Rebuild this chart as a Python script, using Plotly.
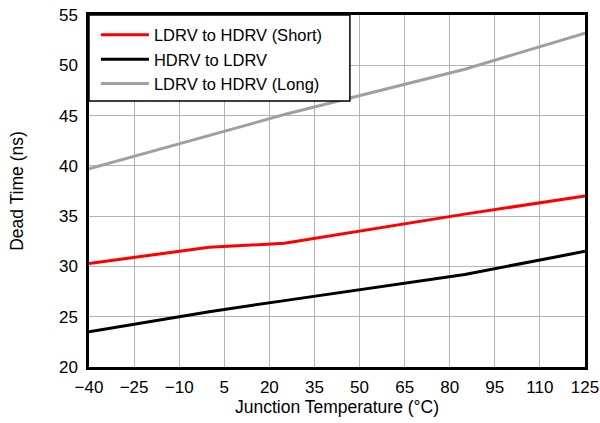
import plotly.graph_objects as go

temps_short = [-40, 0, 25, 85, 125]
ldrv_hdrv_short = [30.3, 31.9, 32.3, 35.2, 37.0]

temps_hl = [-40, 0, 25, 85, 125]
hdrv_ldrv = [23.5, 25.5, 26.6, 29.2, 31.5]

temps_long = [-40, 25, 85, 125]
ldrv_hdrv_long = [39.7, 45.1, 49.6, 53.2]

x_ticks = [-40, -25, -10, 5, 20, 35, 50, 65, 80, 95, 110, 125]
y_ticks = [20, 25, 30, 35, 40, 45, 50, 55]

fig = go.Figure()
fig.add_trace(go.Scatter(x=temps_short, y=ldrv_hdrv_short, mode="lines",
                         name="LDRV to HDRV (Short)", line=dict(color="#ff0000", width=3)))
fig.add_trace(go.Scatter(x=temps_hl, y=hdrv_ldrv, mode="lines",
                         name="HDRV to LDRV", line=dict(color="#000000", width=3)))
fig.add_trace(go.Scatter(x=temps_long, y=ldrv_hdrv_long, mode="lines",
                         name="LDRV to HDRV (Long)", line=dict(color="#a0a0a0", width=3)))

# legend frame drawn as a shape (paper coords) so the entries can sit inset
fig.add_shape(type="rect", xref="paper", yref="paper", x0=0, x1=0.526, y0=0.756, y1=1,
              fillcolor="white", line=dict(color="black", width=1.5), layer="above")

font = "Liberation Sans, Arial, sans-serif"
fig.update_layout(
    width=600, height=423,
    margin=dict(l=89, r=15, t=15, b=56),
    paper_bgcolor="white", plot_bgcolor="white",
    font=dict(family=font, size=16, color="black"),
    showlegend=True,
    legend=dict(x=0.014, y=0.993, xanchor="left", yanchor="top",
                bgcolor="rgba(0,0,0,0)", borderwidth=0,
                font=dict(size=16.5), tracegroupgap=0, itemwidth=48),
    xaxis=dict(range=[-40, 125], tickvals=x_ticks,
               ticktext=[str(v).replace("-", "\u2212") for v in x_ticks],
               showgrid=True, gridcolor="#b4b4b4", gridwidth=1,
               showline=True, linecolor="black", linewidth=2.5, mirror=True,
               ticks="", zeroline=False, automargin=False, ticklabelstandoff=3,
               ticklabeloverflow="allow",
               title=dict(text="Junction Temperature (°C)", font=dict(size=17.5), standoff=3),
               tickfont=dict(size=17)),
    yaxis=dict(range=[20, 55], tickvals=y_ticks,
               showgrid=True, gridcolor="#b4b4b4", gridwidth=1,
               showline=True, linecolor="black", linewidth=2.5, mirror=True,
               ticks="", zeroline=False, automargin=False, ticklabelstandoff=5,
               ticklabeloverflow="allow",
               title=dict(text="Dead Time (ns)", font=dict(size=17.5), standoff=31),
               tickfont=dict(size=17)),
)

fig.write_html(
    "out.html",
    config={"displayModeBar": False},
    post_script="document.body.style.margin='0';document.body.style.overflow='hidden';"
                "document.documentElement.style.overflow='hidden';",
)
